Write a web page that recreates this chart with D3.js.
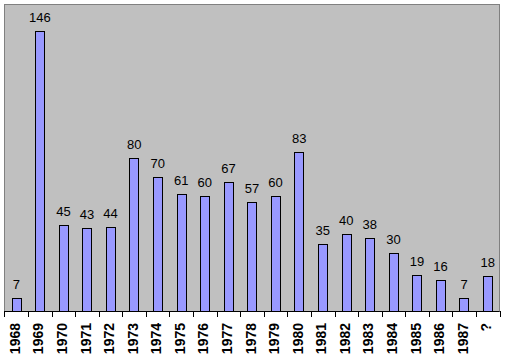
<!DOCTYPE html>
<html><head><meta charset="utf-8">
<script src="https://cdn.jsdelivr.net/npm/d3@7"></script>
<style>body{margin:0;background:#fff;}svg{display:block;}</style>
</head><body>
<script>
const categories = ["1968","1969","1970","1971","1972","1973","1974","1975","1976","1977","1978","1979","1980","1981","1982","1983","1984","1985","1986","1987","?"];
const values = [7,146,45,43,44,80,70,61,60,67,57,60,83,35,40,38,30,19,16,7,18];
const yMax = 160;

(function(){
const W = 505, H = 357;
const pL = 4.5, pR = 499.5, pT = 4, pB = 311;

const svg = d3.select("body").append("svg").attr("width", W).attr("height", H);

const x = d3.scaleBand().domain(categories).range([pL, pR]).paddingInner(0).paddingOuter(0);
const y = d3.scaleLinear().domain([0, yMax]).range([pB, pT]);

svg.append("rect").attr("x", pL).attr("y", pT + 0.5).attr("width", pR-pL).attr("height", pB-pT)
  .attr("fill", "#C0C0C0").attr("stroke", "#808080").attr("stroke-width", 1);

const bw = x.bandwidth() / 2.5;
svg.selectAll("rect.bar").data(values).enter().append("rect").attr("class","bar")
  .attr("x", (d,i) => Math.round(x(categories[i]) + x.bandwidth()/2 - bw/2) + 0.5)
  .attr("y", d => Math.round(y(d)) + 0.5)
  .attr("width", Math.round(bw))
  .attr("height", d => pB - Math.round(y(d)))
  .attr("fill", "#9999FF").attr("stroke", "#000").attr("stroke-width", 1);

svg.selectAll("text.val").data(values).enter().append("text").attr("class","val")
  .attr("x", (d,i) => x(categories[i]) + x.bandwidth()/2)
  .attr("y", d => y(d) - 9)
  .attr("text-anchor", "middle")
  .attr("font-family", "Arial, 'Liberation Sans', sans-serif")
  .attr("font-size", 13).attr("fill", "#000")
  .text(d => d);

const xAxis = d3.axisBottom(x).tickSize(0).tickFormat("");
const ax = svg.append("g").attr("transform", `translate(0,${pB})`).call(xAxis);
ax.select(".domain").remove();
svg.append("line").attr("x1", pL).attr("x2", pR).attr("y1", pB+0.5).attr("y2", pB+0.5)
  .attr("stroke", "#000").attr("stroke-width", 1);

const bounds = categories.map(c => x(c)).concat([pR]);
svg.selectAll("line.tk").data(bounds).enter().append("line").attr("class","tk")
  .attr("x1", d => Math.round(d) + 0.5).attr("x2", d => Math.round(d) + 0.5)
  .attr("y1", pB).attr("y2", pB + 6)
  .attr("stroke", "#000").attr("stroke-width", 1);

svg.selectAll("text.cat").data(categories).enter().append("text").attr("class","cat")
  .attr("transform", d => `translate(${x(d) + x.bandwidth()/2 + 3.5},${pB + 12}) rotate(-90)`)
  .attr("text-anchor", "end")
  .attr("font-family", "Arial, 'Liberation Sans', sans-serif")
  .attr("font-size", 14).attr("font-weight", "bold").attr("fill", "#000")
  .text(d => d);
})();
</script>
</body></html>
